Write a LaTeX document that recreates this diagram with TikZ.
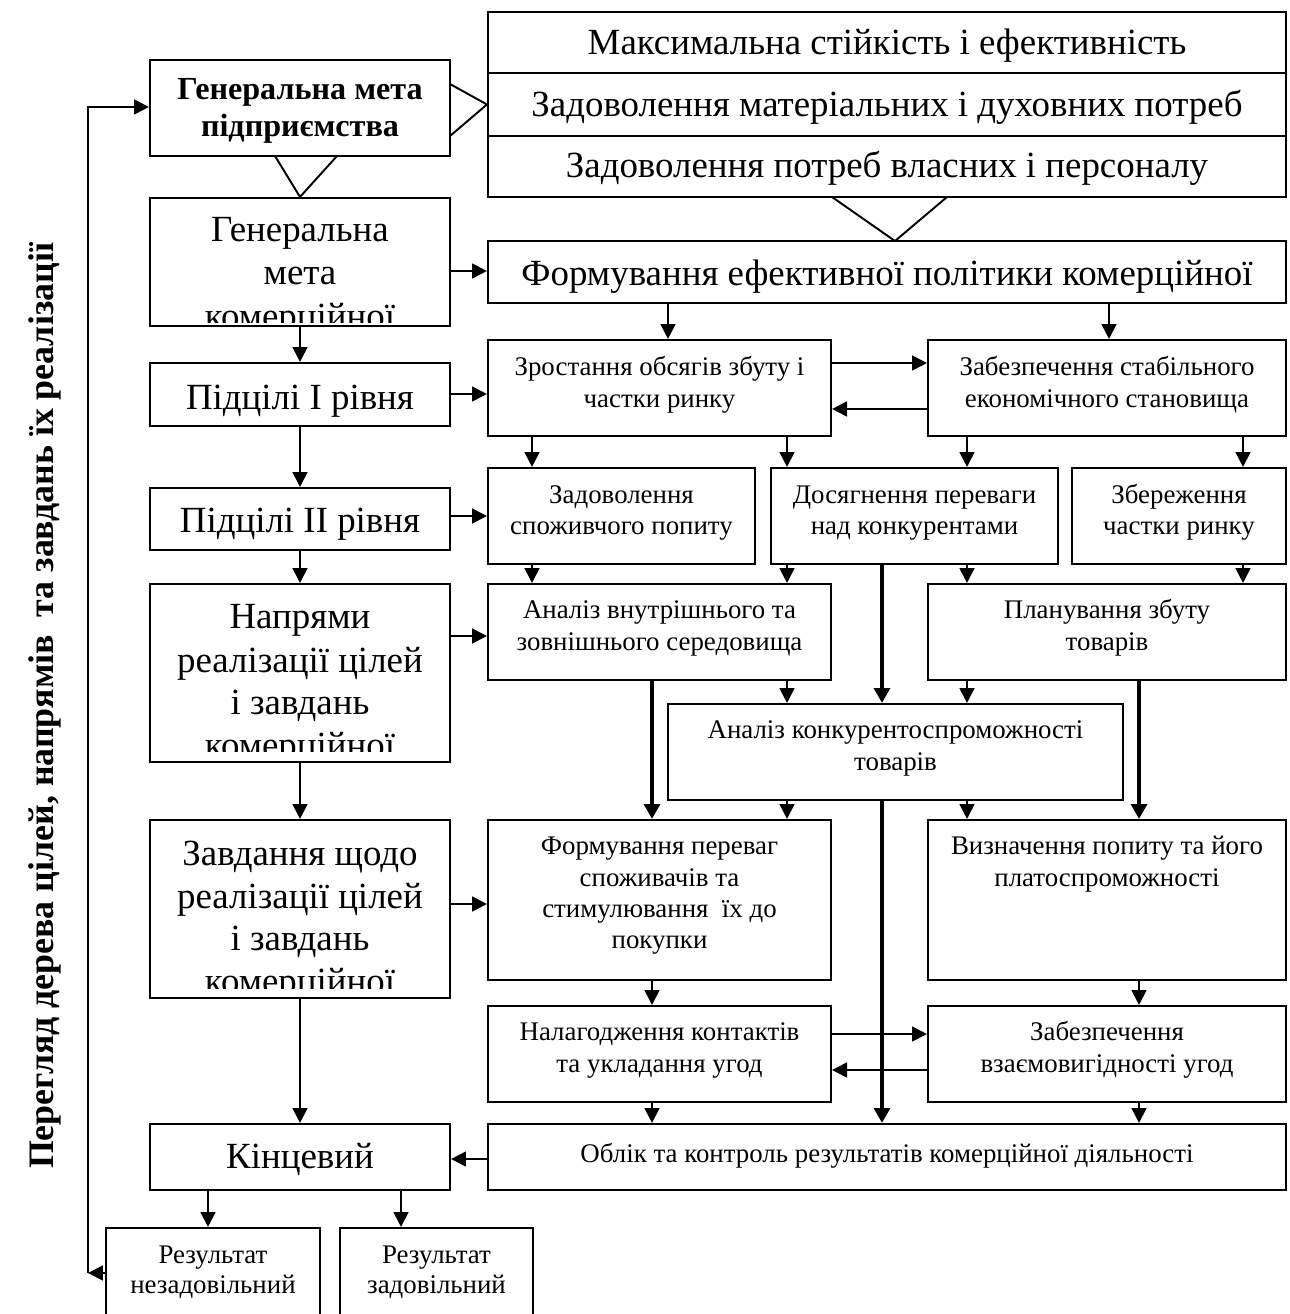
\documentclass[tikz,border=0pt]{standalone}
\usepackage{fontspec}
\setmainfont{Liberation Serif}
\usetikzlibrary{arrows.meta,fit}
\newcommand\mybox[5]{\node[box, fit={(#2,#3) (#4,#5)}] (#1) {};}
\begin{document}
\begin{tikzpicture}[x=0.02cm,y=-0.02cm,
  box/.style={draw, line width=1.2pt, inner sep=0pt},
  big/.style={font=\fontsize{21}{25}\selectfont, inner sep=0pt, anchor=base},
  med/.style={font=\fontsize{15.3}{18}\selectfont, inner sep=0pt, anchor=base},
  bld/.style={font=\fontsize{18.3}{22}\selectfont\bfseries, inner sep=0pt, anchor=base},
  arr/.style={-{Triangle[length=8.5pt,width=8.5pt]}, line width=1.1pt},
  tarr/.style={-{Triangle[length=8.5pt,width=9pt]}, line width=2.8pt},
  tri/.style={line width=1.1pt},
]
\useasboundingbox (0,0) rectangle (1290,1314);
\clip (0,0) rectangle (1290,1314);
\fill[white] (0,0) rectangle (1290,1314);

% ---------- boxes ----------
\mybox{gm}{150}{60}{450}{156}
\mybox{gmk}{150}{198}{450}{326}
\mybox{p1}{150}{363}{450}{426}
\mybox{p2}{150}{488}{450}{550}
\mybox{napr}{150}{584}{450}{762}
\mybox{zavd}{150}{820}{450}{998}
\mybox{kinc}{150}{1124}{450}{1190}
\mybox{res1}{106}{1228}{320}{1340}
\mybox{res2}{340}{1228}{533}{1340}

\mybox{s1}{488}{12}{1286}{73}
\mybox{s2}{488}{73}{1286}{136}
\mybox{s3}{488}{136}{1286}{197}
\mybox{fe}{488}{241}{1286}{303}
\mybox{zr}{488}{340}{831}{436}
\mybox{zs}{928}{340}{1286}{436}
\mybox{zp}{488}{468}{755}{564}
\mybox{dos}{771}{468}{1058}{564}
\mybox{zb}{1072}{468}{1286}{564}
\mybox{av}{488}{584}{831}{680}
\mybox{pl}{928}{584}{1286}{680}
\mybox{ak}{668}{704}{1123}{800}
\mybox{fp}{488}{820}{831}{980}
\mybox{vz}{928}{820}{1286}{980}
\mybox{nal}{488}{1006}{831}{1102}
\mybox{zv}{928}{1006}{1286}{1102}
\mybox{ob}{488}{1124}{1286}{1190}

% ---------- texts ----------
\node[bld] (t-gm1) at (300,100) {Генеральна мета};
\node[bld] (t-gm2) at (300,137) {підприємства};
\begin{scope}
\clip (151,199) rectangle (449,322);
\node[big] (t-gmk1) at (300,242) {Генеральна};
\node[big] (t-gmk2) at (300,285) {мета};
\node[big] (t-gmk3) at (300,328) {комерційної};
\end{scope}
\node[big] (t-p1) at (300,409) {Підцілі І рівня};
\node[big] (t-p2) at (300,532) {Підцілі ІІ рівня};
\begin{scope}
\clip (151,585) rectangle (449,751);
\node[big] (t-na1) at (300,628) {Напрями};
\node[big] (t-na2) at (300,672) {реалізації цілей};
\node[big] (t-na3) at (300,714) {і завдань};
\node[big] (t-na4) at (300,757) {комерційної};
\end{scope}
\begin{scope}
\clip (151,821) rectangle (449,988);
\node[big] (t-za1) at (300,865) {Завдання щодо};
\node[big] (t-za2) at (300,908) {реалізації цілей};
\node[big] (t-za3) at (300,950) {і завдань};
\node[big] (t-za4) at (300,993) {комерційної};
\end{scope}
\node[big] (t-ki) at (300,1168) {Кінцевий};
\node[med] (t-r11) at (213,1263) {Результат};
\node[med] (t-r12) at (213,1293) {незадовільний};
\node[med] (t-r21) at (436.5,1263) {Результат};
\node[med] (t-r22) at (436.5,1293) {задовільний};

\node[big] (t-s1) at (887,55) {Максимальна стійкість і ефективність};
\node[big] (t-s2) at (887,117) {Задоволення матеріальних і духовних потреб};
\node[big] (t-s3) at (887,178) {Задоволення потреб власних і персоналу};
\node[big] (t-fe) at (887,286) {Формування ефективної політики комерційної};

\node[med] (t-zr1) at (659.5,375) {Зростання обсягів збуту і};
\node[med] (t-zr2) at (659.5,407) {частки ринку};
\node[med] (t-zs1) at (1107,375) {Забезпечення стабільного};
\node[med] (t-zs2) at (1107,407) {економічного становища};
\node[med] (t-zp1) at (621.5,503) {Задоволення};
\node[med] (t-zp2) at (621.5,534) {споживчого попиту};
\node[med] (t-do1) at (914.5,503) {Досягнення переваги};
\node[med] (t-do2) at (914.5,534) {над конкурентами};
\node[med] (t-zb1) at (1179,503) {Збереження};
\node[med] (t-zb2) at (1179,534) {частки ринку};
\node[med] (t-av1) at (659.5,618) {Аналіз внутрішнього та};
\node[med] (t-av2) at (659.5,650) {зовнішнього середовища};
\node[med] (t-pl1) at (1107,618) {Планування збуту};
\node[med] (t-pl2) at (1107,650) {товарів};
\node[med] (t-ak1) at (895.5,738) {Аналіз конкурентоспроможності};
\node[med] (t-ak2) at (895.5,770) {товарів};
\node[med] (t-fp1) at (659.5,854) {Формування переваг};
\node[med] (t-fp2) at (659.5,886) {споживачів та};
\node[med] (t-fp3) at (659.5,917) {стимулювання~ їх до};
\node[med] (t-fp4) at (659.5,948) {покупки};
\node[med] (t-vz1) at (1107,854) {Визначення попиту та його};
\node[med] (t-vz2) at (1107,886) {платоспроможності};
\node[med] (t-na1r) at (659.5,1040) {Налагодження контактів};
\node[med] (t-na2r) at (659.5,1072) {та укладання угод};
\node[med] (t-zv1) at (1107,1040) {Забезпечення};
\node[med] (t-zv2) at (1107,1072) {взаємовигідності угод};
\node[med] (t-ob) at (887,1162) {Облік та контроль результатів комерційної діяльності};

\node[rotate=90, font=\fontsize{20.4}{24}\selectfont\bfseries, inner sep=0pt] (vt) at (45,706)
  {Перегляд дерева цілей, напрямів~ та завдань їх реалізації};

% ---------- helper coordinates ----------
\coordinate (c208) at (208,0);
\coordinate (c401) at (401,0);
\coordinate (c532) at (532,0);
\coordinate (c652) at (652,0);
\coordinate (c668) at (668,0);
\coordinate (c787) at (787,0);
\coordinate (c882) at (882,0);
\coordinate (c967) at (967,0);
\coordinate (c1109) at (1109,0);
\coordinate (c1139) at (1139,0);
\coordinate (c1243) at (1243,0);
\coordinate (r271) at (0,271);
\coordinate (r394) at (0,394);
\coordinate (r516) at (0,516);
\coordinate (r636) at (0,636);
\coordinate (r904) at (0,904);
\coordinate (r1159) at (0,1159);
\coordinate (r363) at (0,363);
\coordinate (r409) at (0,409);
\coordinate (r1034) at (0,1034);
\coordinate (r1070) at (0,1070);
\coordinate (fbB) at (88,1273);
\coordinate (fbT) at (88,107);

% ---------- open triangles ----------
\draw[tri] (275,156) -- (gmk.north) -- (337,156);
\draw[tri] (450,84) -- (s2.west) -- (450,136);
\draw[tri] (832,197) -- (895,241) -- (947,197);

% ---------- left column arrows ----------
\draw[arr] (gmk.south) -- (p1.north);
\draw[arr] (p1.south) -- (p2.north);
\draw[arr] (p2.south) -- (napr.north);
\draw[arr] (napr.south) -- (zavd.north);
\draw[arr] (zavd.south) -- (kinc.north);
\draw[arr] (kinc.south -| c208) -- (res1.north -| c208);
\draw[arr] (kinc.south -| c401) -- (res2.north -| c401);

% ---------- left to right ----------
\draw[arr] (gmk.east |- r271) -- (fe.west |- r271);
\draw[arr] (p1.east |- r394) -- (zr.west |- r394);
\draw[arr] (p2.east |- r516) -- (zp.west |- r516);
\draw[arr] (napr.east |- r636) -- (av.west |- r636);
\draw[arr] (zavd.east |- r904) -- (fp.west |- r904);
\draw[arr] (ob.west |- r1159) -- (kinc.east |- r1159);

% ---------- feedback ----------
\draw[arr] (res1.west |- fbB) -- (fbB);
\draw[arr] (fbB) -- (fbT) -- (gm.west |- fbT);

% ---------- right part arrows ----------
\draw[arr] (fe.south -| c668) -- (zr.north -| c668);
\draw[arr] (fe.south -| c1109) -- (zs.north -| c1109);
\draw[arr] (zr.east |- r363) -- (zs.west |- r363);
\draw[arr] (zs.west |- r409) -- (zr.east |- r409);
\draw[arr] (zr.south -| c532) -- (zp.north -| c532);
\draw[arr] (zr.south -| c787) -- (dos.north -| c787);
\draw[arr] (zs.south -| c967) -- (dos.north -| c967);
\draw[arr] (zs.south -| c1243) -- (zb.north -| c1243);
\draw[arr] (zp.south -| c532) -- (av.north -| c532);
\draw[arr] (dos.south -| c787) -- (av.north -| c787);
\draw[arr] (dos.south -| c967) -- (pl.north -| c967);
\draw[arr] (zb.south -| c1243) -- (pl.north -| c1243);
\draw[arr] (av.south -| c787) -- (ak.north -| c787);
\draw[arr] (pl.south -| c967) -- (ak.north -| c967);
\draw[arr] (ak.south -| c787) -- (fp.north -| c787);
\draw[arr] (ak.south -| c967) -- (vz.north -| c967);
\draw[arr] (fp.south -| c652) -- (nal.north -| c652);
\draw[arr] (vz.south -| c1139) -- (zv.north -| c1139);
\draw[arr] (nal.east |- r1034) -- (zv.west |- r1034);
\draw[arr] (zv.west |- r1070) -- (nal.east |- r1070);
\draw[arr] (nal.south -| c652) -- (ob.north -| c652);
\draw[arr] (zv.south -| c1139) -- (ob.north -| c1139);

% ---------- thick arrows ----------
\draw[tarr] (dos.south -| c882) -- (ak.north -| c882);
\draw[tarr] (ak.south -| c882) -- (ob.north -| c882);
\draw[tarr] (av.south -| c652) -- (fp.north -| c652);
\draw[tarr] (pl.south -| c1139) -- (vz.north -| c1139);
\end{tikzpicture}
\end{document}
